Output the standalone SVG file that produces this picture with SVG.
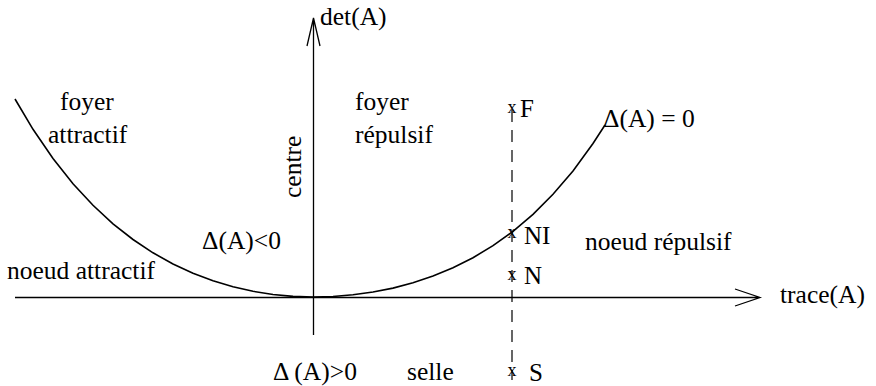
<svg xmlns="http://www.w3.org/2000/svg" width="876" height="386" viewBox="0 0 876 386">
<style>
.ln{fill:none;stroke:#000;stroke-width:1.3}
.cv{fill:none;stroke:#000;stroke-width:1.6}
.dash{fill:none;stroke:#000;stroke-width:1.2;stroke-dasharray:12 8}
.t{font-size:25.5px}
.p{font-size:25px}
.x{font-size:18px;text-anchor:middle}
</style>
<rect width="876" height="386" fill="#fff"/>
<g id="connectors">
<path id="axis-trace" class="ln" d="M15,297.5 H760 M735,289 L760,297.5 L735,306"/>
<path id="axis-det" class="ln" d="M313.5,335 V18 M307,46 L313.5,18 L320,46"/>
<path id="parabola" class="cv" d="M15,99 L33,129.3 L53,158.5 L73,183.7 L93,205.3 L113,223.8 L133,239.5 L153,252.8 L173,264 L193,273.3 L213,280.8 L233,286.8 L253,291.3 L273,294.5 L293,296.4 L313,297 L333,296.5 L353,294.8 L373,292 L393,288.1 L413,282.8 L433,276.1 L453,267.8 L473,257.7 L493,245.7 L513,231.3 L533,214.3 L553,194.3 L573,170.9 L593,143.5 L605,125"/>
<path id="dashed" class="dash" d="M512,110 V380"/>
</g>
<g font-family="Liberation Serif, Times New Roman, Times, serif" fill="#000">
<g id="axis-labels">
<text class="t" x="320" y="25">det(A)</text>
<text class="t" x="780" y="303">trace(A)</text>
</g>
<g id="region-foyer-attractif">
<text class="t" x="60" y="110">foyer</text>
<text class="t" x="48" y="143">attractif</text>
</g>
<g id="region-foyer-repulsif">
<text class="t" x="355" y="110">foyer</text>
<text class="t" x="355" y="143">répulsif</text>
</g>
<g id="region-centre">
<text class="t" transform="translate(301,198) rotate(-90)" x="0" y="0">centre</text>
</g>
<g id="region-delta-neg">
<text class="t" x="202" y="249">Δ(A)&lt;0</text>
</g>
<g id="region-noeud-attractif">
<text class="t" x="7" y="279">noeud attractif</text>
</g>
<g id="curve-label">
<text class="t" x="603" y="127">Δ(A) = 0</text>
</g>
<g id="region-noeud-repulsif">
<text class="t" x="585" y="250">noeud répulsif</text>
</g>
<g id="region-selle">
<text class="t" x="273" y="380">Δ (A)&gt;0</text>
<text class="t" x="407" y="380">selle</text>
</g>
<g id="point-F">
<text class="x" x="512" y="113">x</text>
<text class="p" x="520" y="117">F</text>
</g>
<g id="point-NI">
<text class="x" x="512" y="238">x</text>
<text class="p" x="524" y="244">NI</text>
</g>
<g id="point-N">
<text class="x" x="512" y="280">x</text>
<text class="p" x="524" y="284">N</text>
</g>
<g id="point-S">
<text class="x" x="512" y="376">x</text>
<text class="p" x="529" y="381">S</text>
</g>
</g>
</svg>
